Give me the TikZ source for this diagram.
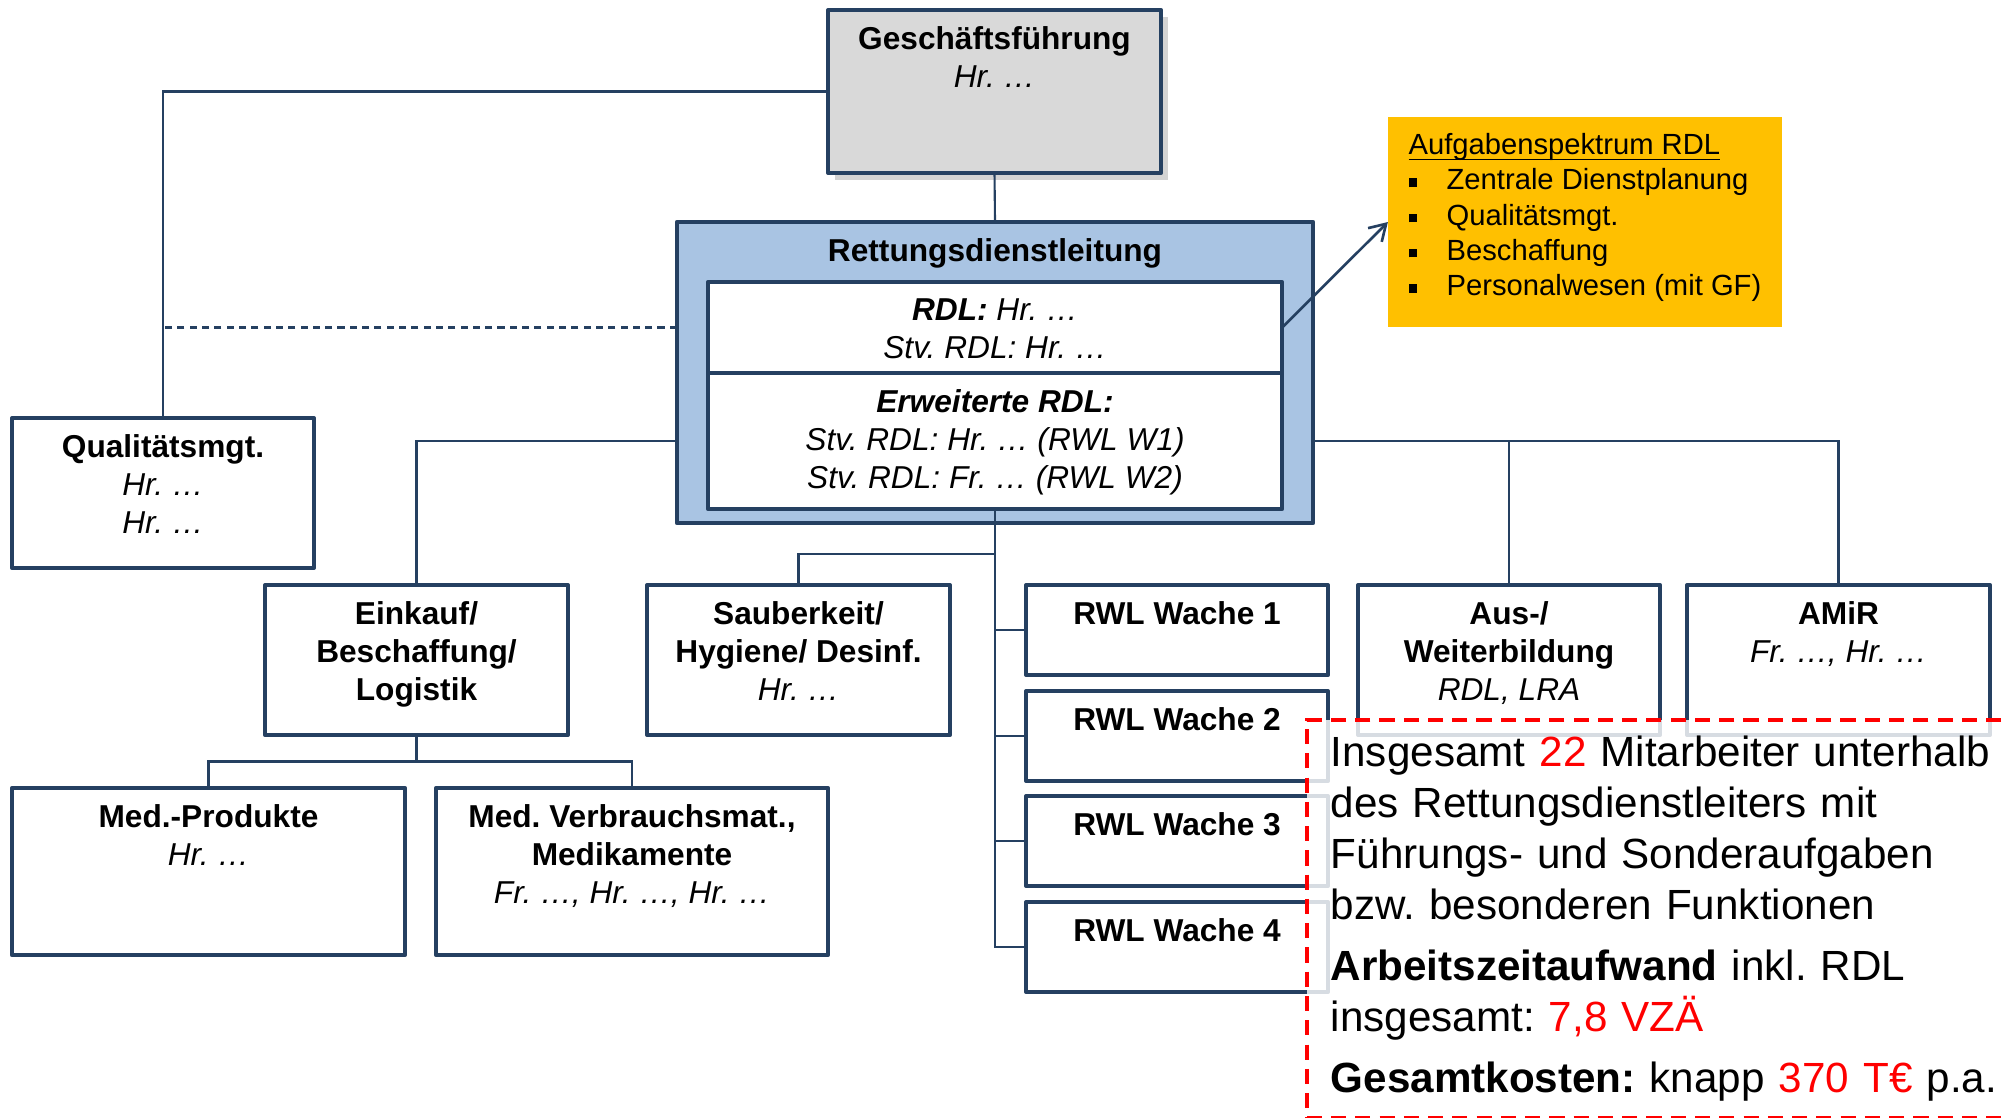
\documentclass[tikz,border=0pt]{standalone}
\usepackage{fontspec}
\setmainfont{Liberation Sans}
\usepackage{tikz}
\usetikzlibrary{arrows.meta,calc,positioning,shadows}
\usepackage{xcolor}
\definecolor{navy}{HTML}{254061}
\definecolor{rdlblue}{HTML}{A9C4E3}
\definecolor{gold}{HTML}{FFC000}
\definecolor{gfgray}{HTML}{D9D9D9}
\newcommand{\sqb}{\makebox[0.38cm][l]{\rule[0.8pt]{2.5pt}{2.5pt}}}

\begin{document}
\frenchspacing
\begin{tikzpicture}[
  x=0.01cm, y=-0.01cm,
  box/.style={draw=navy, line width=1.1pt, fill=white, inner sep=0pt, outer sep=0pt, line join=round},
  conn/.style={draw=navy, line width=0.6pt},
  txt/.style={align=center, inner sep=0pt, font=\fontsize{9}{10.8}\selectfont}
]
\useasboundingbox (0,0) rectangle (2010,1117);

% Leitung
\node[box, fill=gfgray, drop shadow={shadow xshift=2pt, shadow yshift=-2pt, opacity=0.35},
  minimum width=3.33cm, minimum height=1.63cm] (gf) at (994.5,91.5) {};
\node[txt, below=0.16cm of gf.north] (gft) {\textbf{Geschäftsführung}\\\textit{Hr. …}};

\node[box, fill=rdlblue, minimum width=6.36cm, minimum height=3.01cm] (rdl) at (995,372.5) {};
\node[txt, below=0.16cm of rdl.north] (rdlt) {\textbf{Rettungsdienstleitung}};
\node[box, minimum width=5.74cm, minimum height=0.91cm] (rdlup) at (995,327.5) {};
\node[box, minimum width=5.74cm, minimum height=1.36cm] (rdllow) at (995,441) {};
\node[txt, below=0.16cm of rdlup.north] (rdlupt) {\textbf{\textit{RDL:}} \textit{Hr. …}\\\textit{Stv. RDL: Hr. …}};
\node[txt, below=0.16cm of rdllow.north] (rdllowt) {\textbf{\textit{Erweiterte RDL:}}\\\textit{Stv. RDL: Hr. … (RWL W1)}\\\textit{Stv. RDL: Fr. … (RWL W2)}};

\node[box, draw=none, fill=gold, minimum width=3.94cm, minimum height=2.10cm] (aufg) at (1585,222) {};
\node[below right=0.16cm and 0.2cm of aufg.north west, align=left, inner sep=0pt,
  font=\fontsize{8.3}{10}\selectfont] (aufgt) {\vphantom{Af}\underline{\smash{Aufgabenspektrum RDL}}\\
  \sqb Zentrale Dienstplanung\\
  \sqb Qualitätsmgt.\\
  \sqb Beschaffung\\
  \sqb Personalwesen (mit GF)};

% Bereiche
\node[box, minimum width=3.02cm, minimum height=1.50cm] (qm) at (163,493) {};
\node[txt, below=0.16cm of qm.north] (qmt) {\textbf{Qualitätsmgt.}\\\textit{Hr. …}\\\textit{Hr. …}};

\node[box, minimum width=3.03cm, minimum height=1.50cm] (ek) at (416.5,660) {};
\node[txt, below=0.16cm of ek.north] (ekt) {\textbf{Einkauf/}\\\textbf{Beschaffung/}\\\textbf{Logistik}};

\node[box, minimum width=3.03cm, minimum height=1.50cm] (sb) at (798.5,660) {};
\node[txt, below=0.16cm of sb.north] (sbt) {\textbf{Sauberkeit/}\\\textbf{Hygiene/ Desinf.}\\\textit{Hr. …}};

\node[box, minimum width=3.02cm, minimum height=0.90cm] (w1) at (1177,630) {};
\node[txt, below=0.16cm of w1.north] (w1t) {\textbf{RWL Wache 1}};
\node[box, minimum width=3.02cm, minimum height=0.90cm] (w2) at (1177,736) {};
\node[txt, below=0.16cm of w2.north] (w2t) {\textbf{RWL Wache 2}};
\node[box, minimum width=3.02cm, minimum height=0.90cm] (w3) at (1177,841) {};
\node[txt, below=0.16cm of w3.north] (w3t) {\textbf{RWL Wache 3}};
\node[box, minimum width=3.02cm, minimum height=0.90cm] (w4) at (1177,947) {};
\node[txt, below=0.16cm of w4.north] (w4t) {\textbf{RWL Wache 4}};

\node[box, minimum width=3.02cm, minimum height=1.50cm] (aw) at (1509,660) {};
\node[txt, below=0.16cm of aw.north] (awt) {\textbf{Aus-/}\\\textbf{Weiterbildung}\\\textit{RDL, LRA}};

\node[box, minimum width=3.03cm, minimum height=1.50cm] (amir) at (1838.5,660) {};
\node[txt, below=0.16cm of amir.north] (amirt) {\textbf{AMiR}\\\textit{Fr. …, Hr. …}};

\node[box, minimum width=3.93cm, minimum height=1.67cm] (mp) at (208.5,871.5) {};
\node[txt, below=0.16cm of mp.north] (mpt) {\textbf{Med.-Produkte}\\\textit{Hr. …}};

\node[box, minimum width=3.92cm, minimum height=1.67cm] (mv) at (632,871.5) {};
\node[txt, below=0.16cm of mv.north] (mvt) {\textbf{Med. Verbrauchsmat.,}\\\textbf{Medikamente}\\\textit{Fr. …, Hr. …, Hr. …}};

% Verbindungen
\coordinate (rdlq) at (rdl.west |- rdlup.west);
\coordinate (rdll) at (rdl.west |- rdllow.west);
\coordinate (rdlr) at (rdl.east |- rdllow.east);
\coordinate (sbk) at ($(rdl.south)!0.5!(rdl.south |- sb.north)$);
\coordinate (ekbus) at ($(ek.south)!0.5!(ek.south |- mp.north)$);

\draw[conn] (gf.south) -- (rdl.north);
\draw[conn] (gf.west) -| (qm.north);
\draw[conn, dash pattern=on 2pt off 1.5pt] (rdlq) -| (qm.north);
\draw[conn] (rdll) -| (ek.north);
\draw[conn] (rdlr) -| (amir.north);
\draw[conn] (aw.north) |- (rdlr);
\draw[conn] (rdllow.south) |- (w4.west);
\draw[conn] (rdl.south |- w1.west) -- (w1.west);
\draw[conn] (rdl.south |- w2.west) -- (w2.west);
\draw[conn] (rdl.south |- w3.west) -- (w3.west);
\draw[conn] (sbk) -| (sb.north);
\draw[conn] (ek.south) -- (ekbus);
\draw[conn] (mp.north) |- (ekbus) -| (mv.north);
\draw[conn, line width=0.75pt, -{Straight Barb[length=4.5pt,width=5.5pt]}] (rdlup.east) -- (aufg.west);

% Zusammenfassung
\node[anchor=north west, draw=red, line width=1pt, dash pattern=on 4.3pt off 2.6pt,
  fill=white, fill opacity=0.82, text opacity=1, minimum height=3.98cm,
  inner xsep=0.24cm, text width=6.82cm, align=left,
  font=\fontsize{12}{14.5}\selectfont] (summary) at (1305,718) {Insgesamt {\color{red}22} Mitarbeiter unterhalb\\
  des Rettungsdienstleiters mit\\
  Führungs- und Sonderaufgaben\\
  bzw. besonderen Funktionen\\[2.8pt]
  \textbf{Arbeitszeitaufwand} inkl. RDL\\
  insgesamt: {\color{red}7,8 VZÄ}\\[2.8pt]
  \textbf{Gesamtkosten:} knapp {\color{red}370 T€} p.a.};
\end{tikzpicture}
\end{document}
